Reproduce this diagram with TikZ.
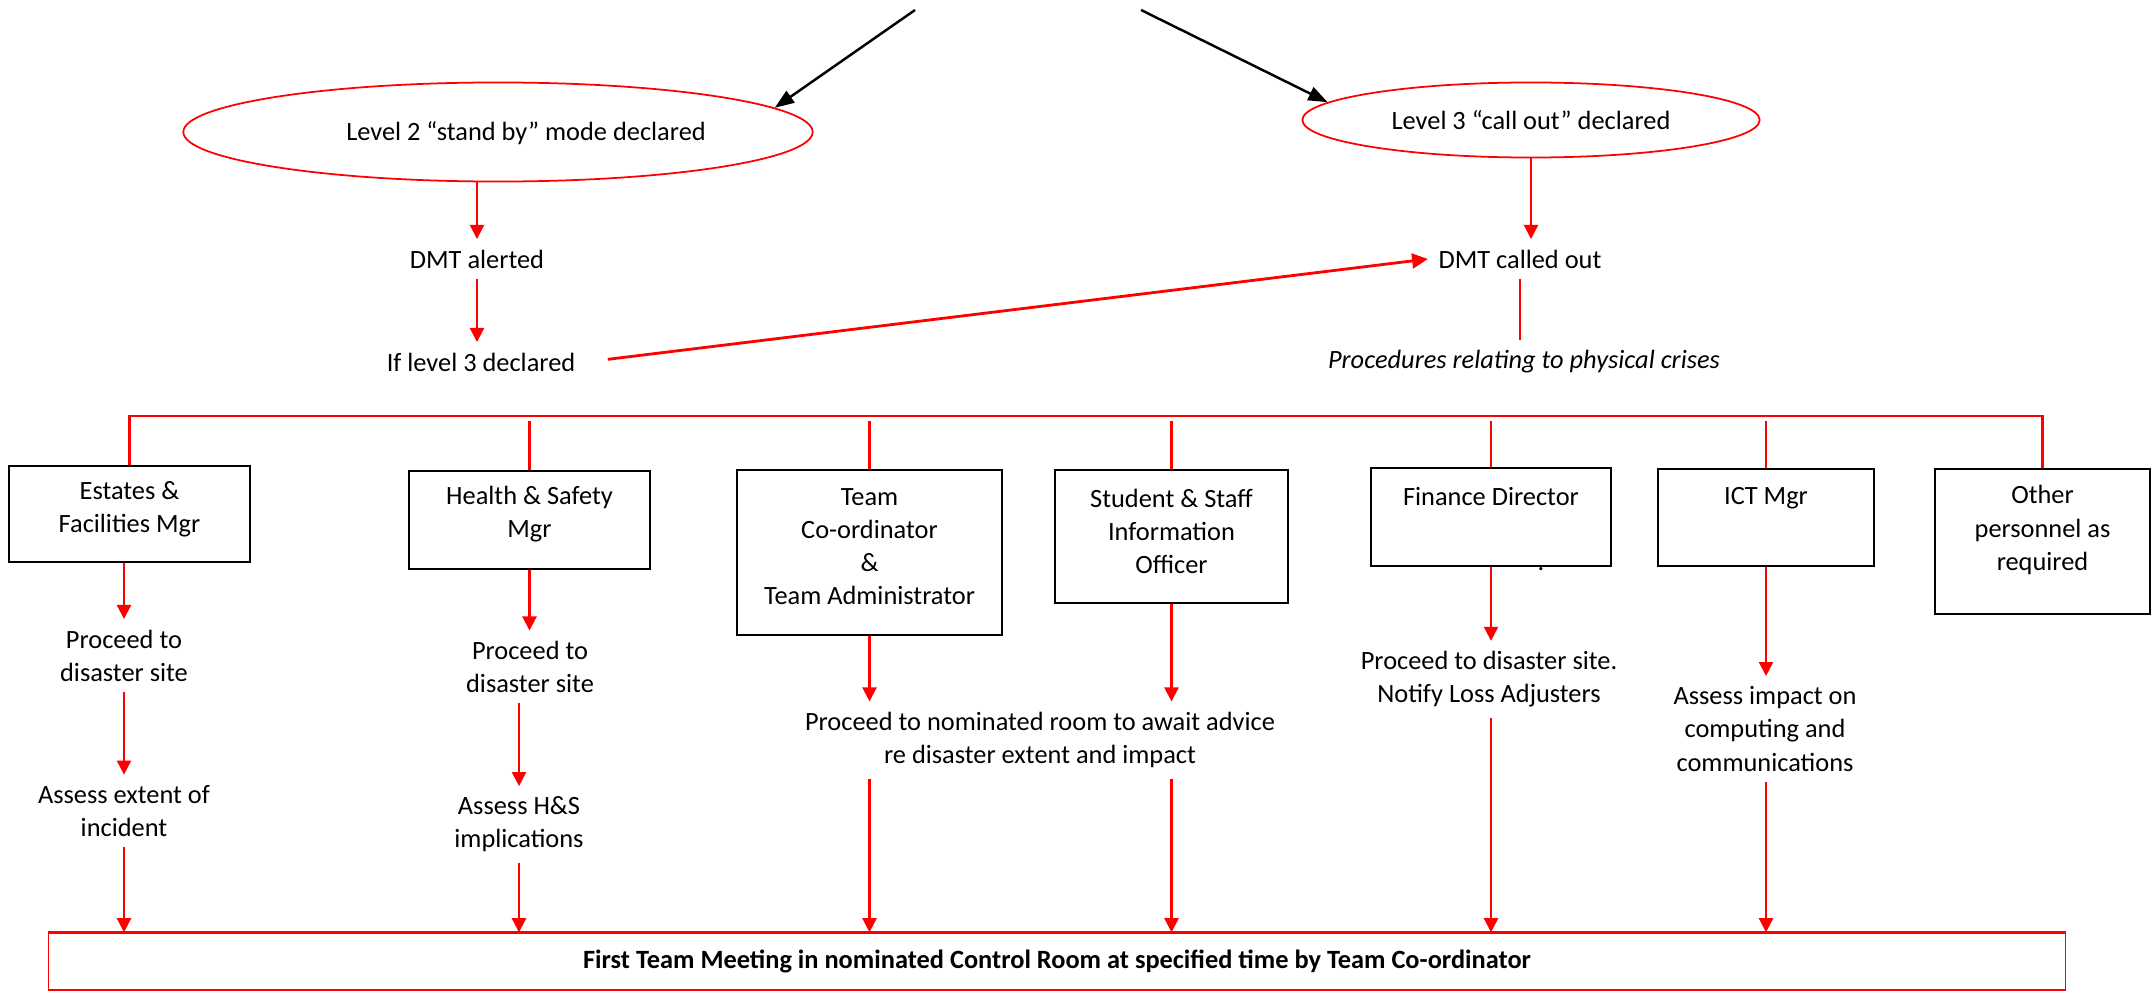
\documentclass[tikz,border=0pt]{standalone}
\usepackage{fontspec}
\setmainfont{Carlito}
\usepackage{tikz}
\usetikzlibrary{arrows.meta, positioning, shapes.geometric}

\begin{document}
\begin{tikzpicture}[
    x=0.01cm, y=-0.01cm,
    txt/.style={inner sep=0.1cm, align=center, font=\fontsize{7.5}{9.4}\selectfont},
    boxtxt/.style={inner sep=0pt, align=center, font=\fontsize{7.5}{9.4}\selectfont},
    level/.style={draw=red, line width=0.5pt, ellipse, inner sep=0pt, font=\fontsize{7.5}{9.4}\selectfont},
    mgr/.style={draw, line width=0.7pt, rectangle, inner sep=0pt},
    arr/.style={-{Triangle[length=4pt, width=4pt]}, red, line width=0.6pt},
    thickarr/.style={-{Triangle[length=4.5pt, width=4.2pt]}, red, line width=0.8pt},
    blackarr/.style={-{Triangle[length=5.5pt, width=4pt]}, black, line width=0.7pt},
    link/.style={red, line width=0.6pt}
]
\useasboundingbox (0,0) rectangle (2152,991);

\coordinate (srcl) at (915,10);
\coordinate (srcr) at (1141,10);
\node[level, minimum width=6.29cm, minimum height=0.99cm] (lvltwo) at (498,132) {};
\node[boxtxt] (lvltwotxt) at (526,133) {Level 2 “stand by” mode declared};
\node[level, minimum width=4.57cm, minimum height=0.75cm] (lvlthree) at (1531,120) {Level 3 “call out” declared};

\node[txt] (alerted) at (477,259) {DMT alerted};
\node[txt] (iflvl) at (481,362) {If level 3 declared};
\node[txt] (calledout) at (1520,259) {DMT called out};
\node[txt, font=\fontsize{7.5}{9.4}\selectfont\itshape] (physical) at (1524,362) {Procedures relating to physical crises};

\node[mgr, minimum width=2.41cm, minimum height=0.96cm] (estates) at (129.5,514) {};
\node[boxtxt] (estatestxt) at (129.5,509) {Estates \&\\Facilities Mgr};
\node[mgr, minimum width=2.41cm, minimum height=0.98cm] (hands) at (529.5,520) {};
\node[boxtxt] (handstxt) at (529.5,514) {Health \& Safety\\Mgr};
\node[mgr, minimum width=2.65cm, minimum height=1.65cm] (teamco) at (869.5,552.5) {};
\node[boxtxt] (teamcotxt) at (869.5,547) {Team\\Co-ordinator\\\&\\Team Administrator};
\node[mgr, minimum width=2.33cm, minimum height=1.33cm] (studinfo) at (1171.5,536.5) {};
\node[boxtxt] (studinfotxt) at (1171.5,531) {Student \& Staff\\Information\\Officer};
\node[mgr, minimum width=2.40cm, minimum height=0.98cm] (finance) at (1491,517) {};
\node[boxtxt] (financetxt) at (1491,497) {Finance Director};
\node[mgr, minimum width=2.16cm, minimum height=0.97cm] (ict) at (1766,517.5) {};
\node[boxtxt] (icttxt) at (1766,498) {ICT Mgr};
\node[mgr, minimum width=2.15cm, minimum height=1.45cm] (other) at (2042.5,541.5) {};
\node[boxtxt] (othertxt) at (2042.5,530) {Other\\personnel as\\required};
\node[boxtxt] (stray) at (1541,569) {.};

\node[txt] (estproc) at (124,655.5) {Proceed to\\disaster site};
\node[txt] (estassess) at (124,811) {Assess extent of\\incident};
\node[txt] (hsproc) at (530,667) {Proceed to\\disaster site};
\node[txt] (hsassess) at (519,824.5) {Assess H\&S\\implications};
\node[txt] (nomroom) at (1040,740) {Proceed to nominated room to await advice\\re disaster extent and impact};
\node[txt] (finproc) at (1489,679.5) {Proceed to disaster site.\\Notify Loss Adjusters};
\node[txt] (ictassess) at (1765,729) {Assess impact on\\computing and\\communications};

\node[draw=red, line width=0.4pt, minimum width=20.16cm, minimum height=0.57cm, inner sep=0pt,
      font=\fontsize{7.5}{9.4}\selectfont\bfseries] (meeting) at (1057,961.5)
      {First Team Meeting in nominated Control Room at specified time by Team Co-ordinator};
\draw[red, line width=1pt] (meeting.north west) -- (meeting.north east);

\draw[blackarr] (srcl) -- (lvltwo.5);
\draw[blackarr] (srcr) -- (lvlthree.175);
\draw[arr] (alerted.north |- lvltwo.south) -- (alerted.north);
\draw[arr] (alerted.south) -- (alerted.south |- iflvl.north);
\draw[arr] (lvlthree.south) -- (lvlthree.south |- calledout.north);
\draw[thickarr, shorten <=0.22cm] (iflvl.east) -- (calledout.west);
\draw[link] (calledout.south) -- (calledout.south |- physical.north);

\coordinate (bus) at (0,416);
\coordinate (busdrop) at (0,421);
\draw[link] (estates.north) |- (other.north |- bus) -- (other.north);
\foreach \b in {hands, teamco, studinfo, finance, ict}
    \draw[link] (\b.north |- busdrop) -- (\b.north);

\draw[arr] (estproc.north |- estates.south) -- (estproc.north);
\draw[arr] (estproc.south) -- (estproc.south |- estassess.north);
\draw[arr] (estassess.south) -- (estassess.south |- meeting.north);
\draw[arr] (hands.south) -- (hands.south |- hsproc.north);
\draw[arr] (hsassess.north |- hsproc.south) -- (hsassess.north);
\draw[arr] (hsassess.south) -- (hsassess.south |- meeting.north);
\foreach \b in {teamco, studinfo} {
    \draw[arr] (\b.south) -- (\b.south |- nomroom.north);
    \draw[arr] (\b.south |- nomroom.south) -- (\b.south |- meeting.north);
}
\draw[arr] (finance.south) -- (finance.south |- finproc.north);
\draw[arr] (finance.south |- finproc.south) -- (finance.south |- meeting.north);
\draw[arr] (ict.south) -- (ict.south |- ictassess.north);
\draw[arr] (ict.south |- ictassess.south) -- (ict.south |- meeting.north);
\end{tikzpicture}
\end{document}
